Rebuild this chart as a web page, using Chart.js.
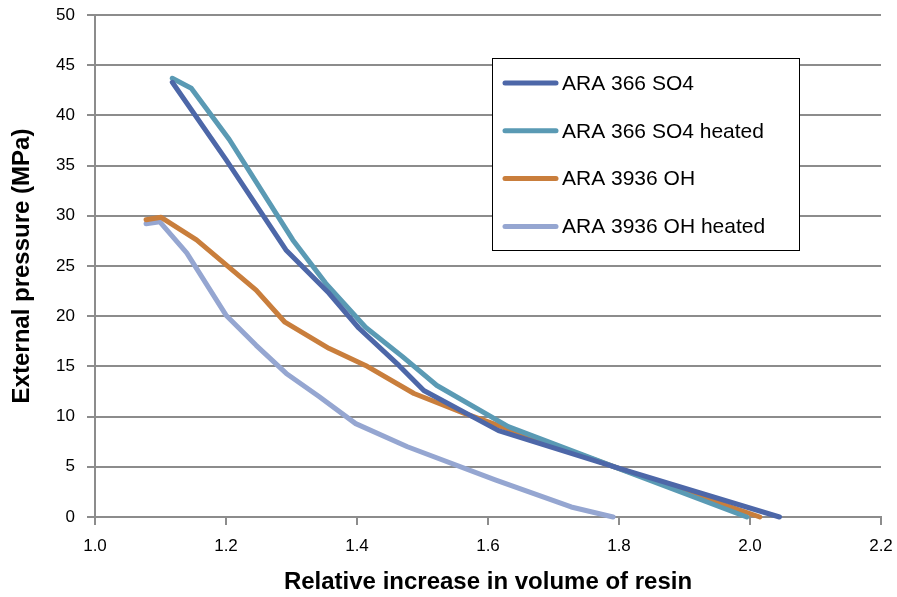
<!DOCTYPE html>
<html>
<head>
<meta charset="utf-8">
<script src="https://cdn.jsdelivr.net/npm/chart.js@4"></script>
<style>
  html, body { margin: 0; padding: 0; background: #fff; }
  #wrap { width: 897px; height: 597px; }
</style>
</head>
<body>
<div id="wrap"><canvas id="chart" width="897" height="597"></canvas></div>
<script>
    "use strict";

    // Series
    const seriesNames = ["ARA 366 SO4", "ARA 366 SO4 heated", "ARA 3936 OH", "ARA 3936 OH heated"];

    const so4X = [1.118, 1.2, 1.2915, 1.357, 1.403, 1.464, 1.502, 1.616, 1.793, 2.045];
    const so4Y = [43.3, 35.6, 26.6, 22.3, 18.8, 15.1, 12.6, 8.6, 5.0, 0];

    const so4hX = [1.118, 1.147, 1.205, 1.302, 1.352, 1.413, 1.469, 1.522, 1.631, 1.793, 1.995];
    const so4hY = [43.7, 42.7, 37.6, 27.6, 23.3, 18.9, 16.0, 13.1, 9.0, 5.0, 0];

    const ohX = [1.078, 1.101, 1.155, 1.246, 1.29, 1.357, 1.413, 1.487, 1.565, 1.793, 2.015];
    const ohY = [29.6, 29.85, 27.6, 22.6, 19.4, 16.8, 15.1, 12.3, 10.3, 5.0, 0];

    const ohhX = [1.078, 1.099, 1.14, 1.2, 1.246, 1.292, 1.342, 1.398, 1.477, 1.611, 1.727, 1.791];
    const ohhY = [29.2, 29.4, 26.3, 20.1, 17.1, 14.3, 12.0, 9.3, 7.0, 3.7, 1.0, 0];

    const colors = ["#4d67a8", "#5a9ab4", "#c97e3c", "#95a6d1"];
    const gridColor = "#8c8c8c";
    const fontFamily = "'Liberation Sans', Arial, sans-serif";

    const toPoints = (xs, ys) => xs.map((x, i) => ({ x: x, y: ys[i] }));
    const allSeries = [[so4X, so4Y], [so4hX, so4hY], [ohX, ohY], [ohhX, ohhY]];

    // Legend box drawn inside the plot
    const boxLegend = {
        id: "boxLegend",
        afterDatasetsDraw(chart) {
            const ctx = chart.ctx;
            const left = 492, top = 58, w = 307, h = 192;
            ctx.save();
            ctx.fillStyle = "#fff";
            ctx.fillRect(left, top, w, h);
            ctx.strokeStyle = "#000";
            ctx.lineWidth = 1;
            ctx.strokeRect(left + 0.5, top + 0.5, w, h);
            ctx.font = "21px " + fontFamily;
            ctx.textBaseline = "middle";
            chart.data.datasets.forEach((ds, i) => {
                const y = top + 25 + i * 47.8;
                ctx.strokeStyle = ds.borderColor;
                ctx.lineWidth = 5;
                ctx.lineCap = "round";
                ctx.beginPath();
                ctx.moveTo(505, y);
                ctx.lineTo(556, y);
                ctx.stroke();
                ctx.fillStyle = "#000";
                ctx.fillText(ds.label, 562, y + 1);
            });
            ctx.restore();
        },
    };

    new Chart(document.getElementById("chart"), {
        type: "scatter",
        data: {
            datasets: allSeries.map((s, i) => ({
                label: seriesNames[i],
                data: toPoints(s[0], s[1]),
                showLine: true,
                borderColor: colors[i],
                backgroundColor: colors[i],
                borderWidth: 5,
                borderCapStyle: "round",
                borderJoinStyle: "round",
                pointRadius: 0,
                pointHoverRadius: 0,
                clip: false,
            })),
        },
        options: {
            responsive: false,
            animation: false,
            layout: { padding: { top: 15, right: 16, left: 0, bottom: 0 } },
            plugins: {
                legend: { display: false },
                tooltip: { enabled: false },
            },
            scales: {
                x: {
                    type: "linear",
                    min: 1.0,
                    max: 2.2,
                    ticks: {
                        stepSize: 0.2,
                        color: "#000",
                        font: { family: fontFamily, size: 17 },
                        padding: 11,
                        callback: (v) => v.toFixed(1),
                    },
                    grid: {
                        drawOnChartArea: false,
                        color: gridColor,
                        lineWidth: 2,
                        tickLength: 8,
                    },
                    border: { color: gridColor, width: 2 },
                    title: {
                        display: true,
                        text: "Relative increase in volume of resin",
                        color: "#000",
                        font: { family: fontFamily, size: 24, weight: "bold" },
                        padding: { top: 0, bottom: 0 },
                    },
                    afterFit: (scale) => {
                        scale.height = 80;
                        scale.paddingLeft = 0;
                        scale.paddingRight = 0;
                    },
                },
                y: {
                    min: 0,
                    max: 50,
                    ticks: {
                        stepSize: 5,
                        color: "#000",
                        font: { family: fontFamily, size: 17 },
                        padding: 12,
                    },
                    grid: {
                        color: gridColor,
                        lineWidth: 2,
                        tickLength: 8,
                    },
                    border: { color: gridColor, width: 2 },
                    title: {
                        display: true,
                        text: "External pressure (MPa)",
                        color: "#000",
                        font: { family: fontFamily, size: 24, weight: "bold" },
                        padding: { top: 8, bottom: 0 },
                    },
                    afterFit: (scale) => {
                        scale.width = 95;
                        scale.paddingTop = 0;
                        scale.paddingBottom = 0;
                    },
                },
            },
        },
        plugins: [boxLegend],
    });
</script>
</body>
</html>
